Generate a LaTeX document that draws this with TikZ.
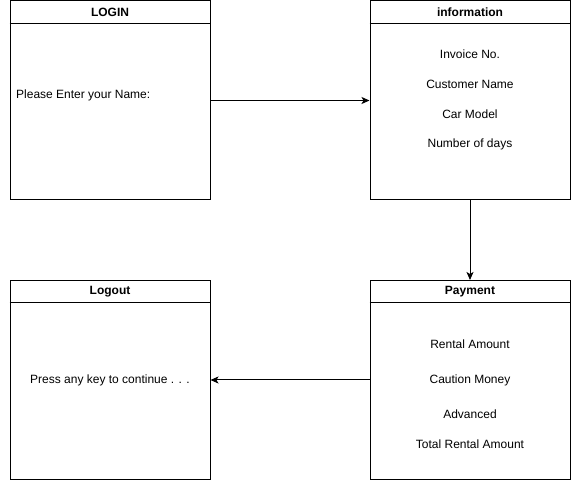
\documentclass[tikz,border=0pt]{standalone}
\usepackage{fontspec}
\setmainfont{Liberation Sans}
\usetikzlibrary{arrows.meta}
\begin{document}
\begin{tikzpicture}[x=1pt,y=-1pt,
 box/.style={draw, line width=1pt, minimum width=200pt, minimum height=199pt, inner sep=0pt},
 hdr/.style={font=\fontsize{12}{14}\selectfont\bfseries, inner sep=0pt},
 txt/.style={font=\fontsize{12}{14}\selectfont, inner sep=0pt},
 sep/.style={line width=1pt},
 conn/.style={line width=1pt, -{Stealth[length=8pt,width=7pt,inset=2pt]}}]
\useasboundingbox (0,0) rectangle (571,481);
% boxes
\node[box] (login) at (110,100.5) {};
\node[box] (info) at (470,100.5) {};
\node[box] (logout) at (110,380) {};
\node[box] (pay) at (470,380) {};
% header separators
\draw[sep] ([yshift=-23pt]login.north west) -- ([yshift=-23pt]login.north east);
\draw[sep] ([yshift=-23pt]info.north west) -- ([yshift=-23pt]info.north east);
\draw[sep] ([yshift=-23pt]logout.north west) -- ([yshift=-23pt]logout.north east);
\draw[sep] ([yshift=-23pt]pay.north west) -- ([yshift=-23pt]pay.north east);
% titles
\node[hdr] (logint) at (110,12) {LOGIN};
\node[hdr] (infot) at (470,12) {information};
\node[hdr] (logoutt) at (110,292) {Logout};
\node[hdr] (payt) at (470,292) {Payment};
% contents
\node[txt, anchor=west] (name) at (16,95) {Please Enter your Name:};
\node[txt] (inv) at (470,54) {Invoice No.};
\node[txt] (cust) at (470,84) {Customer Name};
\node[txt] (car) at (470,114) {Car Model};
\node[txt] (days) at (470,144) {Number of days};
\node[txt] (rent) at (470,344) {Rental Amount};
\node[txt] (caut) at (470,380) {Caution Money};
\node[txt] (adv) at (470,414) {Advanced};
\node[txt] (tot) at (470,444) {Total Rental Amount};
\node[txt] (press) at (110,380) {Press any key to continue . . .};
% connectors
\draw[conn] (login) -- (info);
\draw[conn] (info) -- (pay);
\draw[conn] (pay) -- (logout);
\end{tikzpicture}
\end{document}
